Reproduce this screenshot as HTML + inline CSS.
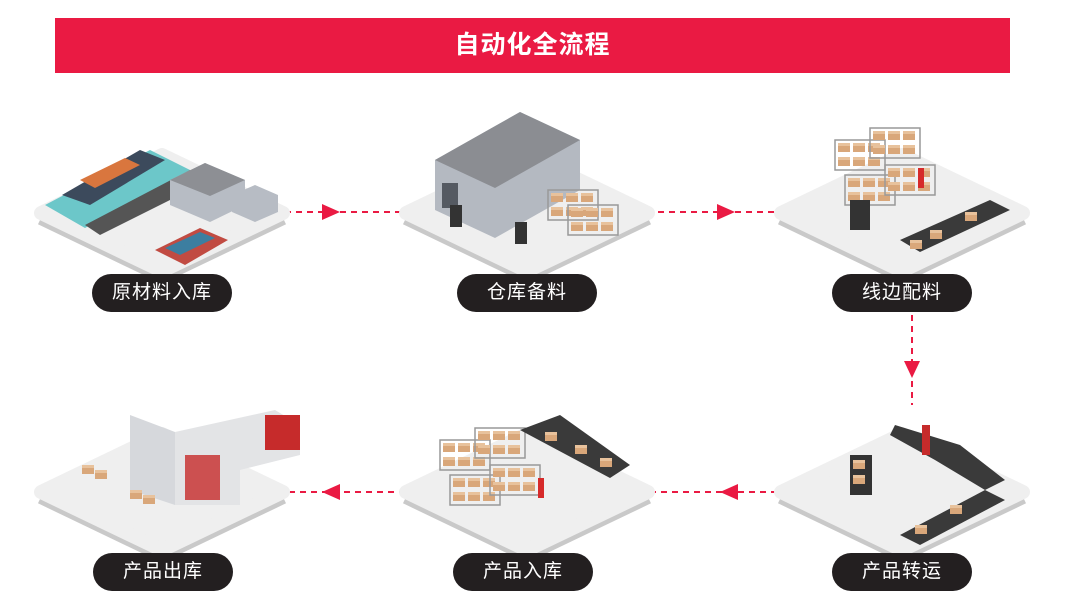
<!DOCTYPE html>
<html><head><meta charset="utf-8"><style>
body{margin:0;background:#fff;width:1080px;height:611px;overflow:hidden;font-family:"Liberation Sans","Noto Sans CJK SC",sans-serif}
.t{position:absolute;left:55px;top:18px;width:955px;height:55px;background:#ea1a43;color:#fff;font-size:25px;font-weight:bold;text-align:center;line-height:55px;letter-spacing:1px}
.p{position:absolute;width:140px;height:38px;border-radius:19px;background:#231f20;color:#fff;font-size:19px;text-align:center;line-height:38px;letter-spacing:1px}
</style></head><body>
<svg width="1080" height="611" style="position:absolute;left:0;top:0">
<defs>
<g id="pl">
<path d="M-121 5 L0 63 L121 5" fill="none" stroke="#c9c9c9" stroke-width="14" stroke-linejoin="round"/>
<path d="M-121 0 L0 -58 L121 0 L0 58 Z" fill="#efefef" stroke="#efefef" stroke-width="14" stroke-linejoin="round"/>
</g>
<g id="box"><rect width="12" height="9" fill="#d9a77a"/><rect x="0" y="0" width="12" height="3" fill="#e8c29c"/></g>
<g id="rack"><rect width="50" height="30" fill="none" stroke="#999" stroke-width="1.5"/><use href="#box" x="3" y="3"/><use href="#box" x="18" y="3"/><use href="#box" x="33" y="3"/><use href="#box" x="3" y="17"/><use href="#box" x="18" y="17"/><use href="#box" x="33" y="17"/></g>
</defs>
<g stroke="#ea1a43" stroke-width="2" stroke-dasharray="6 5" fill="none">
<line x1="285" y1="212" x2="405" y2="212"/><line x1="647" y1="212" x2="782" y2="212"/>
<line x1="912" y1="315" x2="912" y2="405"/>
<line x1="788" y1="492" x2="645" y2="492"/><line x1="405" y1="492" x2="240" y2="492"/>
</g>
<g fill="#ea1a43">
<path d="M322 204 L340 212 L322 220Z"/><path d="M717 204 L735 212 L717 220Z"/>
<path d="M904 361 L912 378 L920 361Z"/>
<path d="M738 484 L720 492 L738 500Z"/><path d="M340 484 L322 492 L340 500Z"/>
</g>
<use href="#pl" x="162" y="213"/><use href="#pl" x="527" y="213"/><use href="#pl" x="902" y="213"/>
<use href="#pl" x="162" y="492"/><use href="#pl" x="527" y="492"/><use href="#pl" x="902" y="492"/>
<!-- tile1 -->
<path d="M45 205 L150 150 L190 170 L85 228Z" fill="#6cc7c9"/>
<path d="M62 195 L140 150 L165 160 L90 205Z" fill="#3c4a5c"/>
<path d="M80 180 L125 158 L140 165 L95 188Z" fill="#d9763e"/>
<path d="M85 225 L190 170 L210 180 L100 235Z" fill="#555"/>
<path d="M170 180 L205 163 L245 180 L245 205 L210 222 L170 205Z" fill="#b7bcc4"/>
<path d="M170 180 L205 163 L245 180 L210 196Z" fill="#8d8f94"/>
<path d="M232 195 L255 185 L278 195 L278 212 L255 222 L232 212Z" fill="#b7bcc4"/>
<path d="M155 250 L200 228 L228 240 L185 265Z" fill="#c14b42"/>
<path d="M165 248 L200 232 L215 238 L180 255Z" fill="#3c7ea0"/>
<!-- tile2 -->
<path d="M435 160 L520 112 L580 140 L580 190 L495 238 L435 210Z" fill="#b4b9c1"/>
<path d="M435 160 L520 112 L580 140 L495 188Z" fill="#8b8d92"/>
<rect x="442" y="183" width="16" height="25" fill="#555a62"/>
<use href="#rack" x="548" y="190"/><use href="#rack" x="568" y="205"/>
<rect x="450" y="205" width="12" height="22" fill="#333"/><rect x="515" y="222" width="12" height="22" fill="#333"/>
<!-- tile3 -->
<use href="#rack" x="835" y="140"/><use href="#rack" x="870" y="128"/><use href="#rack" x="845" y="175"/><use href="#rack" x="885" y="165"/>
<rect x="850" y="200" width="20" height="30" fill="#333"/>
<path d="M900 240 L990 200 L1010 210 L920 252Z" fill="#3a3a3a"/>
<use href="#box" x="930" y="230"/><use href="#box" x="965" y="212"/><use href="#box" x="910" y="240"/>
<rect x="918" y="168" width="6" height="20" fill="#d62a2a"/>
<!-- tile4 -->
<path d="M130 415 L175 432 L175 505 L130 490Z" fill="#d6d8dc"/>
<path d="M175 432 L275 410 L300 425 L300 455 L240 470 L240 505 L175 505Z" fill="#e3e4e6"/>
<rect x="265" y="415" width="35" height="35" fill="#c62b2b"/>
<rect x="185" y="455" width="35" height="45" fill="#c62b2b" opacity=".8"/>
<use href="#box" x="82" y="465"/><use href="#box" x="95" y="470"/><use href="#box" x="130" y="490"/><use href="#box" x="143" y="495"/>
<!-- tile5 -->
<use href="#rack" x="440" y="440"/><use href="#rack" x="475" y="428"/><use href="#rack" x="450" y="475"/><use href="#rack" x="490" y="465"/>
<path d="M520 430 L560 415 L630 465 L610 478Z" fill="#3a3a3a"/>
<use href="#box" x="545" y="432"/><use href="#box" x="575" y="445"/><use href="#box" x="600" y="458"/>
<rect x="538" y="478" width="6" height="20" fill="#d62a2a"/>
<!-- tile6 -->
<path d="M895 425 L960 445 L1005 480 L985 490 L935 460 L890 435Z" fill="#3a3a3a"/>
<rect x="922" y="425" width="8" height="30" fill="#c62b2b"/>
<rect x="850" y="455" width="22" height="40" fill="#333"/>
<use href="#box" x="853" y="460"/><use href="#box" x="853" y="475"/>
<path d="M900 535 L985 490 L1005 500 L920 545Z" fill="#3a3a3a"/>
<use href="#box" x="915" y="525"/><use href="#box" x="950" y="505"/>
</svg>
<div class="t">自动化全流程</div>
<div class="p" style="left:92px;top:274px">原材料入库</div>
<div class="p" style="left:457px;top:274px">仓库备料</div>
<div class="p" style="left:832px;top:274px">线边配料</div>
<div class="p" style="left:93px;top:553px">产品出库</div>
<div class="p" style="left:453px;top:553px">产品入库</div>
<div class="p" style="left:832px;top:553px">产品转运</div>
</body></html>
